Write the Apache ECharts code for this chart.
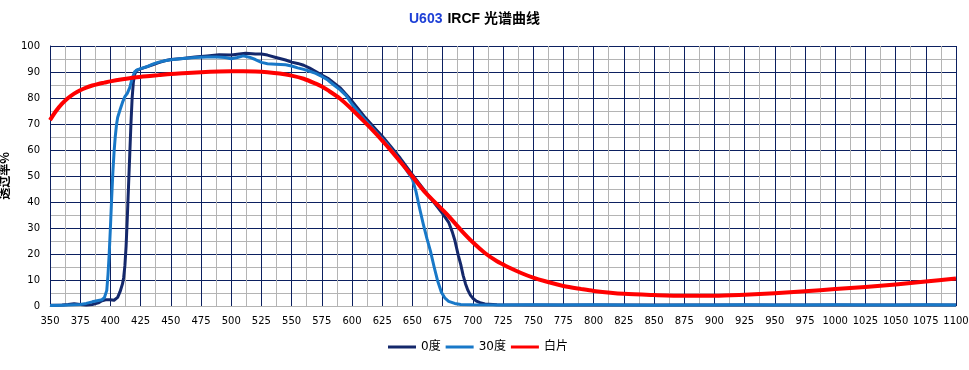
<!DOCTYPE html>
<html>
<head>
<meta charset="utf-8">
<script src="https://cdn.jsdelivr.net/npm/echarts@6/dist/echarts.min.js"></script>
<style>html,body{margin:0;padding:0;background:#fff}#c{width:969px;height:370px}</style>
</head>
<body>
<div id="c"></div>
<script>
// Series names
var seriesNames = ['0度', '30度', '白片'];
// Axis ranges and tick steps
var xMin = 350, xMax = 1100, xStep = 25;
var yMin = 0, yMax = 100, yStep = 10;

// 0度 (dark navy)
var wl0 = [350,355,360,365,370,375,380,385,390,393,396,400,403,406,408,410,411,412,413,414,415,416,417,418,419,420,421.5,425,430,435,440,445,450,460,470,480,490,500,505,512,520,525,530,537,545,550,555,560,565,570,575,580,585,590,595,600,610,620,625,630,640,650,660,670,675,680,683,685,688,690,692,694,696,698,700,703,706,710,720,750,800,850,900,950,1000,1050,1100];
var t0  = [0.3,0.3,0.4,0.6,0.9,0.6,0.4,0.6,1.2,2.0,2.4,2.4,2.2,3.3,5.5,8.5,11,15.5,23,34,46,58,70,80,86,89,90.5,91.2,92,92.8,93.6,94.3,94.8,95.2,95.8,96.2,96.6,96.5,96.8,97.2,96.9,96.9,96.5,95.6,94.6,93.8,93.3,92.6,91.5,90.2,88.8,87.6,85.8,84,81.4,78.8,73,67.8,65.3,62.5,56.8,50.5,44.5,38.5,35.5,32.2,28.5,25.5,19.5,16,11.8,8.5,6,4.2,3,1.9,1.3,0.8,0.5,0.4,0.4,0.4,0.4,0.4,0.4,0.4,0.4];

// 30度 (blue)
var wl30 = [350,360,370,375,380,385,390,393,395,397,398,399,400,401,402,403,404,405,406,408,410,412,414,416,418,420,422,425,430,435,440,445,450,460,470,480,488,495,500,505,510,515,520,525,530,537,545,550,555,560,565,570,575,580,585,590,595,600,610,620,625,630,640,650,653,656,659,662,665,668,671,674,677,680,685,690,700,725,750,775,800,825,850,875,900,925,950,975,1000,1025,1050,1075,1100];
var t30  = [0.2,0.3,0.5,0.6,1.0,1.6,2.1,2.4,3.2,6,12,20,30,41,51,59,65,69.5,72.5,75.5,78.3,80.5,81.8,84,87.5,90,90.8,91.3,92,93,93.8,94.3,94.7,95.2,95.6,95.8,95.8,95.6,95.1,95.6,96.2,95.7,94.8,93.7,93.2,93,92.8,92.3,91.6,91,90.3,89.5,88.3,86.9,85,83.2,81,77.6,72,66.8,64.3,61.8,55.8,48.8,44,37.5,31.5,26,21,15,9.5,5.3,3,1.8,1.0,0.6,0.45,0.4,0.5,0.4,0.5,0.4,0.3,0.4,0.4,0.5,0.4,0.4,0.5,0.4,0.4,0.5,0.4];

// 白片 (red)
var wlW = [350,355,360,365,370,375,380,385,390,395,400,410,420,430,440,450,460,475,490,500,510,520,530,540,550,560,570,575,580,590,600,610,620,625,630,640,650,660,670,675,680,690,700,710,720,725,730,740,750,760,775,790,800,825,850,875,900,925,950,975,1000,1025,1050,1075,1100];
var tW  = [71.5,75,77.8,80,81.7,83,84,84.8,85.4,85.9,86.4,87.2,87.9,88.4,88.8,89.2,89.5,89.9,90.2,90.3,90.3,90.2,89.9,89.4,88.6,87.4,85.5,84.4,83,79.8,75.6,71,66.2,63.6,61,55.5,49.8,44,39.3,37,34.6,29.3,24.5,20.4,17.2,16,14.8,12.7,10.9,9.5,7.7,6.5,5.8,4.7,4.2,3.9,3.9,4.3,4.9,5.7,6.5,7.3,8.3,9.4,10.6];

function zip(a, b) { var r = []; for (var i = 0; i < a.length; i++) r.push([a[i], b[i]]); return r; }

var colors = ['#14286b', '#1878c8', '#ff0000'];
var majorColor = '#0c2060';
var minorColor = '#b4b4b4';

var chart = echarts.init(document.getElementById('c'), null, {renderer: 'canvas'});
chart.setOption({
  animation: false,
  backgroundColor: '#ffffff',
  title: {
    text: '{a|U603} {b|IRCF 光谱曲线}',
    left: 404,
    top: 5,
    textStyle: {
      rich: {
        a: {color: '#1d3fd6', fontWeight: 'bold', fontSize: 14, fontFamily: 'Liberation Sans, Noto Sans CJK SC'},
        b: {color: '#000000', fontWeight: 'bold', fontSize: 14, fontFamily: 'Liberation Sans, Noto Sans CJK SC'}
      }
    }
  },
  legend: {
    data: seriesNames.map(function (n) { return {name: n, icon: 'rect'}; }),
    bottom: 12,
    left: 383,
    itemWidth: 28,
    itemHeight: 3,
    itemGap: 5,
    textStyle: {fontSize: 12, color: '#000', fontFamily: 'DejaVu Sans, Noto Sans CJK SC'}
  },
  grid: {left: 50, right: 13, top: 46, bottom: 64, containLabel: false, outerBoundsMode: 'none'},
  xAxis: {
    type: 'value',
    min: xMin, max: xMax, interval: xStep,
    axisLine: {show: true, lineStyle: {color: minorColor, width: 1}},
    axisTick: {show: false},
    axisLabel: {color: '#000', fontSize: 10, fontFamily: 'DejaVu Sans', margin: 10,
                formatter: function (v) { return String(v); }},
    splitLine: {show: true, lineStyle: {color: majorColor, width: 1}},
    minorTick: {show: false, splitNumber: 2},
    minorSplitLine: {show: true, lineStyle: {color: minorColor, width: 1}}
  },
  yAxis: {
    type: 'value',
    min: yMin, max: yMax, interval: yStep,
    name: '透过率%',
    nameLocation: 'middle',
    nameGap: 34,
    nameRotate: 90,
    nameTextStyle: {fontSize: 12, fontWeight: 'bold', color: '#000', fontFamily: 'Noto Sans CJK SC'},
    axisLine: {show: true, lineStyle: {color: majorColor, width: 1}},
    axisTick: {show: false},
    axisLabel: {color: '#000', fontSize: 10, fontFamily: 'DejaVu Sans', margin: 10},
    splitLine: {show: true, lineStyle: {color: majorColor, width: 1}},
    minorTick: {show: false, splitNumber: 2},
    minorSplitLine: {show: true, lineStyle: {color: minorColor, width: 1}}
  },
  series: [
    {name: seriesNames[0], type: 'line', data: zip(wl0, t0), showSymbol: false, symbol: 'none', symbolSize: 0,
     smooth: false, lineStyle: {color: colors[0], width: 3, join: 'round'}, itemStyle: {color: colors[0]}, z: 2},
    {name: seriesNames[1], type: 'line', data: zip(wl30, t30), showSymbol: false, symbol: 'none', symbolSize: 0,
     smooth: false, lineStyle: {color: colors[1], width: 3, join: 'round'}, itemStyle: {color: colors[1]}, z: 3},
    {name: seriesNames[2], type: 'line', data: zip(wlW, tW), showSymbol: false, symbol: 'none', symbolSize: 0,
     smooth: 0.3, lineStyle: {color: colors[2], width: 4, join: 'round'}, itemStyle: {color: colors[2]}, z: 4}
  ]
});
</script>
</body>
</html>
